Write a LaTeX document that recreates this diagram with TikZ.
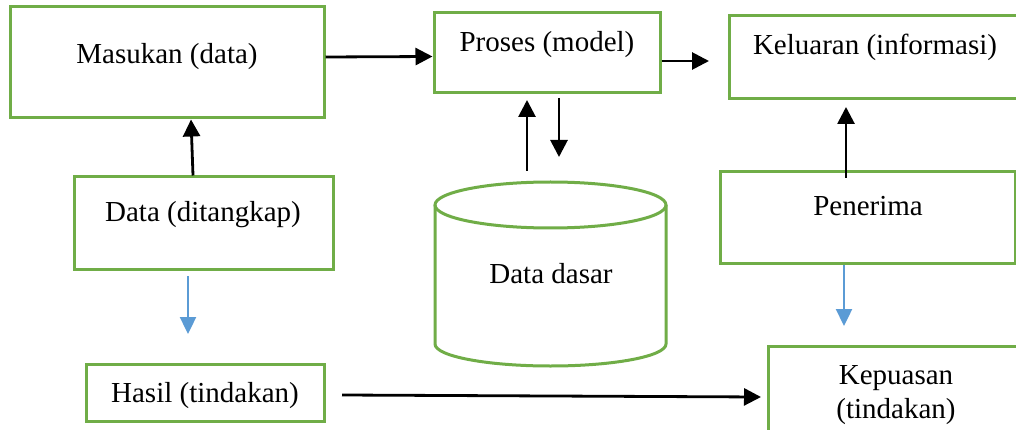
\documentclass[tikz,border=0pt]{standalone}
\usepackage{fontspec}
\setmainfont{Liberation Serif}
\usetikzlibrary{arrows.meta,calc}
\definecolor{boxgreen}{HTML}{70AD47}
\definecolor{arrblue}{HTML}{5B9BD5}
\tikzset{
  box/.style={draw=boxgreen, line width=3pt, fill=white, inner sep=0pt, line join=miter},
  txt/.style={inner sep=0pt, anchor=base, font=\fontsize{29}{35}\selectfont},
  arr/.style={draw=black, line width=2.8pt, -{Triangle[length=17pt,width=17pt]}},
  barr/.style={draw=arrblue, line width=2.4pt, -{Triangle[length=17pt,width=16pt]}},
}
\begin{document}
\begin{tikzpicture}[x=1pt,y=-1pt]
\useasboundingbox (0,0) rectangle (1016,430);
\clip (0,0) rectangle (1016,430);
\fill[white] (0,0) rectangle (1016,430);

% boxes
\node[box, minimum width=314pt, minimum height=111pt] (mas) at (167,62.5) {};
\node[box, minimum width=226pt, minimum height=80pt] (pro) at (547,53) {};
\node[box, minimum width=311pt, minimum height=83pt] (kel) at (884.5,57.5) {};
\node[box, minimum width=259pt, minimum height=92pt] (dat) at (203.5,223) {};
\node[box, minimum width=238pt, minimum height=57pt] (has) at (205,392.5) {};
\node[box, minimum width=295pt, minimum height=91pt] (pen) at (867.5,217.5) {};
\node[box, minimum width=272pt, minimum height=104pt] (kep) at (904,398) {};

% cylinder (Data dasar)
\path[fill=white] (435,205) -- (435,344) arc[start angle=180, end angle=0, x radius=115.5, y radius=22] -- (666,205) -- cycle;
\draw[draw=boxgreen, line width=3pt, fill=white] (550.5,205) ellipse [x radius=115.5, y radius=23];
\draw[draw=boxgreen, line width=3pt] (435,205) -- (435,344) arc[start angle=180, end angle=0, x radius=115.5, y radius=22] -- (666,205);
\coordinate (db) at (550.5,205);

% texts
\node[txt] (tmas) at (167,64) {Masukan (data)};
\node[txt] (tpro) at (547,52) {Proses (model)};
\node[txt] (tkel) at (875,55) {Keluaran (informasi)};
\node[txt] (tdat) at (203,222) {Data (ditangkap)};
\node[txt] (thas) at (205,402) {Hasil (tindakan)};
\node[txt] (tdb) at (551,283) {Data dasar};
\node[txt] (tpen) at (868,215) {Penerima};
\node[txt] (tkep1) at (896,384) {Kepuasan};
\node[txt] (tkep2) at (896,418) {(tindakan)};

% free ends
\coordinate (k1) at (709,61);
\coordinate (u1) at (527,171);
\coordinate (u2) at (527,100);
\coordinate (d1) at (559,98);
\coordinate (d2) at (559,157);
\coordinate (pk1) at (846,178);
\coordinate (pk2) at (846,107);
\coordinate (h1) at (342,395);
\coordinate (h2) at (761,397);
\coordinate (b1) at (188,276);
\coordinate (b2) at (188,334);
\coordinate (c2) at (844,326);

% connectors
\draw[arr] ($(mas.east)+(0,-5.5)$) -- ($(pro.west)+(0,3.5)$);
\draw[arr] ($(pro.east)+(0,8)$) -- (k1);
\draw[arr] ($(dat.north)+(-10.5,0)$) -- ($(mas.south)+(24,0)$);
\draw[arr] (u1) -- (u2);
\draw[arr] (d1) -- (d2);
\draw[arr] (pk1) -- (pk2);
\draw[arr] (h1) -- (h2);
\draw[barr] (b1) -- (b2);
\draw[barr] ($(pen.south)+(-23.5,0)$) -- (c2);
\end{tikzpicture}
\end{document}
